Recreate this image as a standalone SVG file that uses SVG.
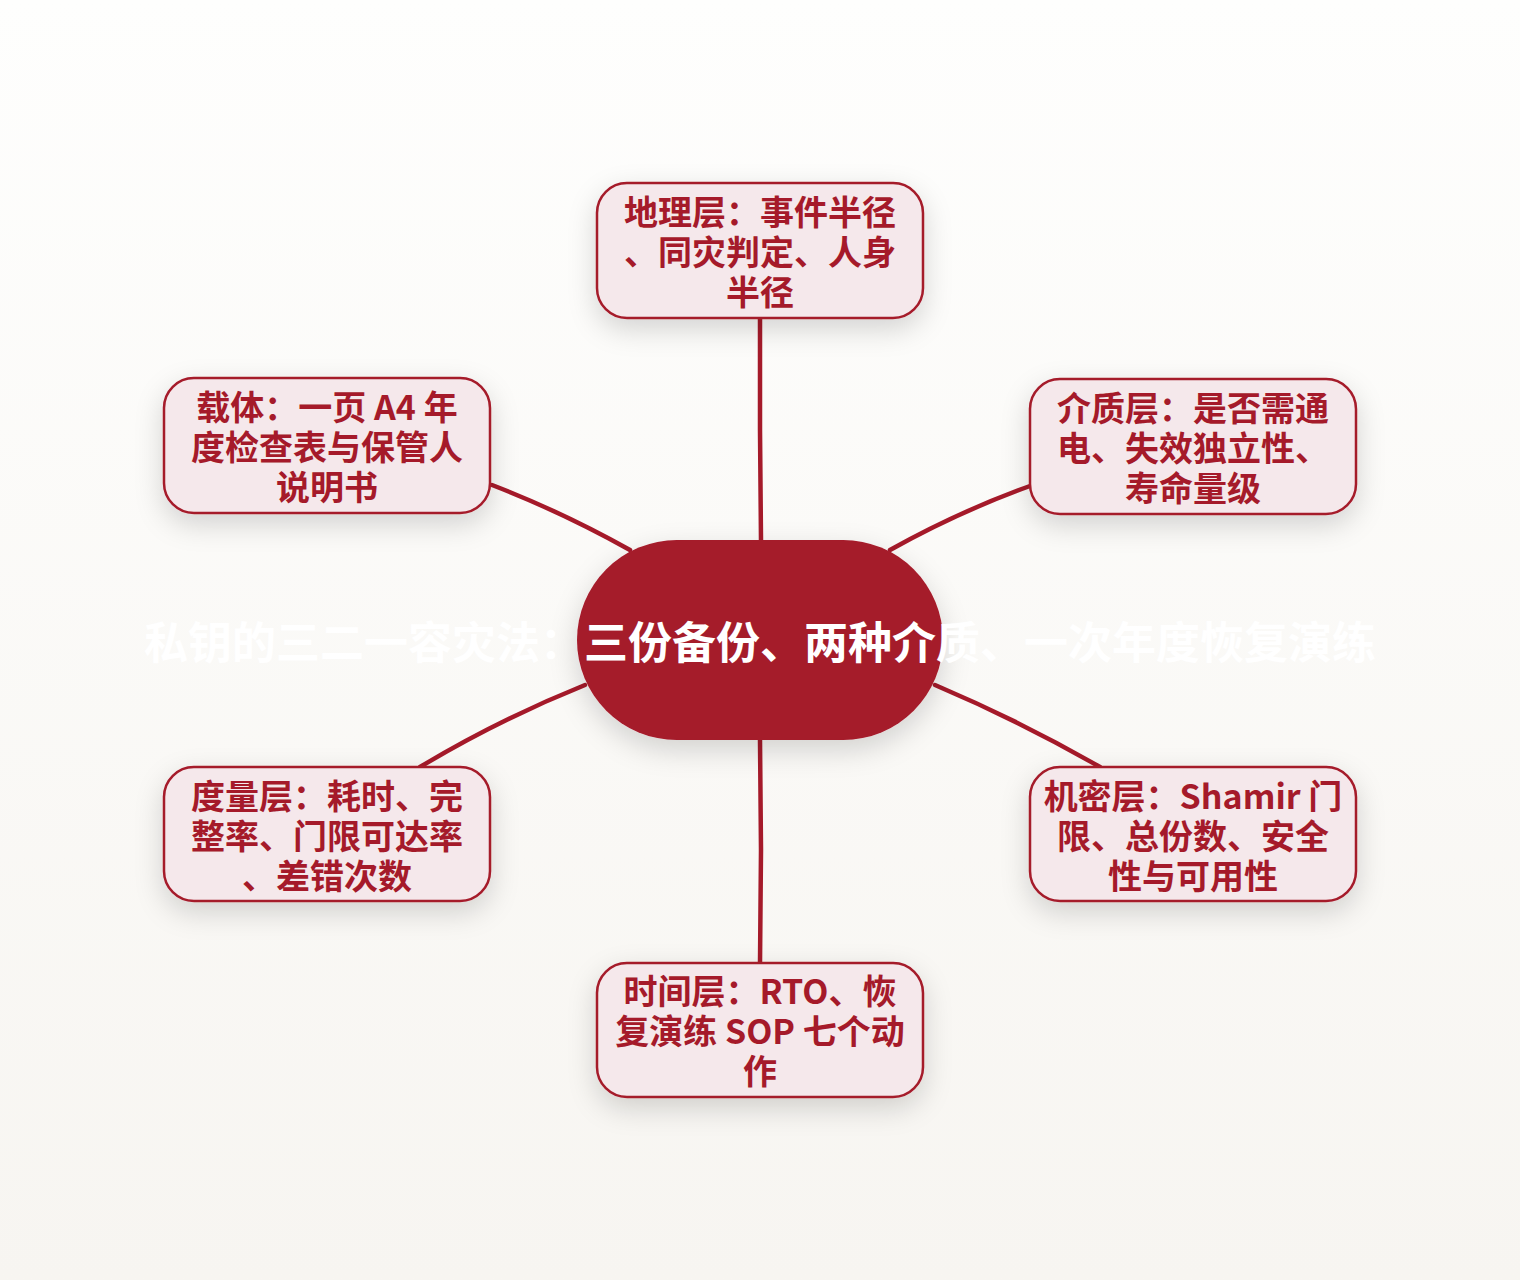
<svg xmlns="http://www.w3.org/2000/svg" width="1520" height="1280" viewBox="0 0 1520 1280">
<defs>
<linearGradient id="bg" x1="0" y1="0" x2="0" y2="1">
<stop offset="0" stop-color="#fefefd"/>
<stop offset="1" stop-color="#f7f5f1"/>
</linearGradient>
<filter id="sh" x="-30%" y="-30%" width="160%" height="170%">
<feDropShadow dx="0" dy="10" stdDeviation="14" flood-color="#000" flood-opacity="0.16"/>
</filter>
<style>
.node{fill:#f5e8eb;stroke:#a51a2a;stroke-width:2.5}
.lbl{font-family:"Noto Sans CJK SC","Noto Sans",sans-serif;font-weight:700;font-size:34px;fill:#a51a2a;text-anchor:middle}
.edge{fill:none;stroke:#a51a2a;stroke-width:4.5;stroke-linecap:round}
.ctext{font-family:"Noto Sans CJK SC","Noto Sans",sans-serif;font-weight:700;font-size:44px;fill:#ffffff;text-anchor:middle}
</style>
</defs>
<rect x="0" y="0" width="1520" height="1280" fill="url(#bg)"/>
<g id="connectors">
<path class="edge" d="M760,318 L760,430 L761,540"/>
<path class="edge" d="M492,485 Q562,512 630,550"/>
<path class="edge" d="M1030,486 Q958,512 890,550"/>
<path class="edge" d="M585,685 Q498,720 420,767"/>
<path class="edge" d="M935,685 Q1022,722 1100,767"/>
<path class="edge" d="M760,740 L761,850 L760,963"/>
</g>
<g id="n-geo">
<rect class="node" filter="url(#sh)" x="597" y="183" width="326" height="135" rx="30"/>
<text class="lbl" x="760" y="225">地理层：事件半径</text>
<text class="lbl" x="760" y="265">、同灾判定、人身</text>
<text class="lbl" x="760" y="305">半径</text>
</g>
<g id="n-carrier">
<rect class="node" filter="url(#sh)" x="164" y="378" width="326" height="135" rx="30"/>
<text class="lbl" x="327" y="420">载体：一页 A4 年</text>
<text class="lbl" x="327" y="460">度检查表与保管人</text>
<text class="lbl" x="327" y="500">说明书</text>
</g>
<g id="n-media">
<rect class="node" filter="url(#sh)" x="1030" y="379" width="326" height="135" rx="30"/>
<text class="lbl" x="1193" y="421">介质层：是否需通</text>
<text class="lbl" x="1193" y="461">电、失效独立性、</text>
<text class="lbl" x="1193" y="501">寿命量级</text>
</g>
<g id="n-metric">
<rect class="node" filter="url(#sh)" x="164" y="767" width="326" height="134" rx="30"/>
<text class="lbl" x="327" y="809">度量层：耗时、完</text>
<text class="lbl" x="327" y="849">整率、门限可达率</text>
<text class="lbl" x="327" y="889">、差错次数</text>
</g>
<g id="n-secret">
<rect class="node" filter="url(#sh)" x="1030" y="767" width="326" height="134" rx="30"/>
<text class="lbl" x="1193" y="809">机密层：Shamir 门</text>
<text class="lbl" x="1193" y="849">限、总份数、安全</text>
<text class="lbl" x="1193" y="889">性与可用性</text>
</g>
<g id="n-time">
<rect class="node" filter="url(#sh)" x="597" y="963" width="326" height="134" rx="30"/>
<text class="lbl" x="760" y="1004">时间层：RTO、恢</text>
<text class="lbl" x="760" y="1044">复演练 SOP 七个动</text>
<text class="lbl" x="760" y="1084">作</text>
</g>
<g id="n-center">
<rect filter="url(#sh)" x="577" y="540" width="366" height="200" rx="100" fill="#a51a2a"/>
<text class="ctext" x="760" y="659">私钥的三二一容灾法：三份备份、两种介质、一次年度恢复演练</text>
</g>
</svg>
